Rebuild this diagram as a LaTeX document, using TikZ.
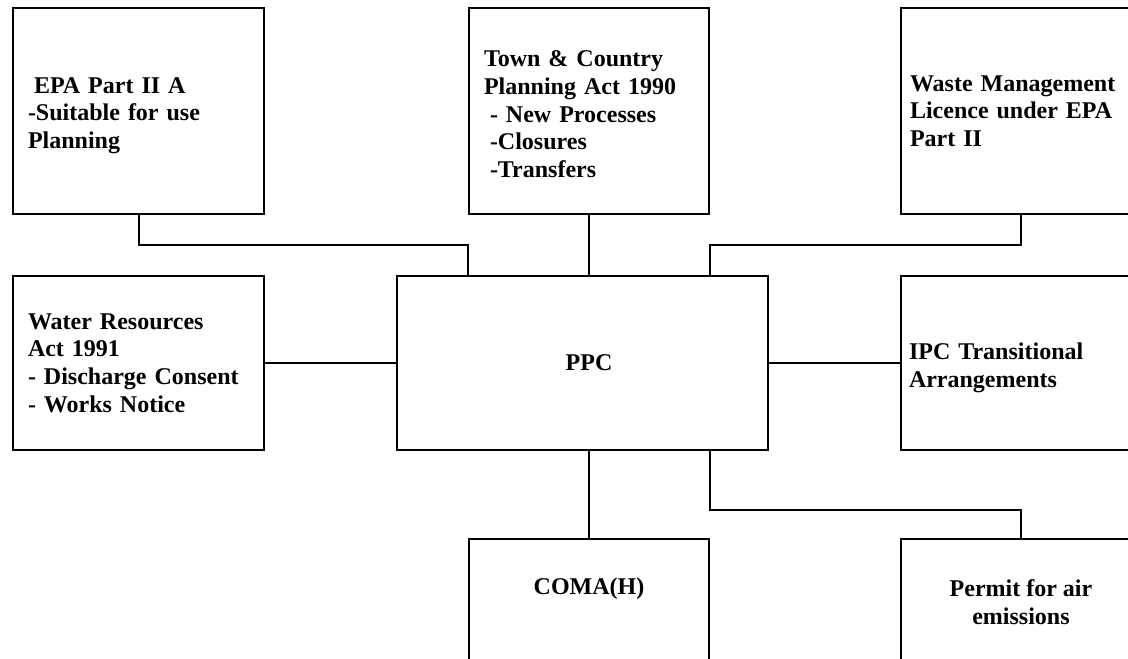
\documentclass[tikz,border=0pt]{standalone}
\usepackage{fontspec}
\setmainfont{Liberation Serif}
\begin{document}
\begin{tikzpicture}[x=1pt,y=-1pt,
    box/.style={draw, line width=2pt, inner sep=0pt, anchor=north west, align=left,
      font=\fontsize{24}{27.6}\selectfont\bfseries},
    link/.style={line width=2pt}]
\clip (0,0) rectangle (1128,659);
\node[box, minimum width=251pt, minimum height=206pt, text width=221pt] (epa) at (12,7)
  {\rule{0pt}{25pt}\hspace*{6pt}EPA Part II A\\-Suitable for use\\Planning};
\node[box, minimum width=240pt, minimum height=206pt, text width=210pt] (town) at (468,7)
  {\rule{0pt}{22.5pt}Town \& Country\\Planning Act 1990\\\hspace*{6pt}- New Processes\\\hspace*{6pt}-Closures\\\hspace*{6pt}-Transfers};
\node[box, minimum width=240pt, minimum height=206pt, text width=222pt] (waste) at (900,7)
  {Waste Management\\Licence under EPA\\Part II};
\node[box, minimum width=251pt, minimum height=174pt, text width=221pt] (water) at (12,275)
  {Water Resources\\Act 1991\\- Discharge Consent\\- Works Notice};
\node[box, minimum width=371pt, minimum height=174pt, align=center] (ppc) at (396,275)
  {\hspace*{13pt}PPC};
\node[box, minimum width=240pt, minimum height=174pt, text width=224pt] (ipc) at (900,275)
  {\rule{0pt}{26pt}IPC Transitional\\Arrangements};
\node[box, minimum width=240pt, text height=55pt, text depth=100pt, align=center] (coma) at (468,538)
  {COMA(H)};
\node[box, minimum width=240pt, text height=85pt, text depth=100pt, align=center] (permit) at (900,538)
  {Permit for air\\emissions};
\draw[link] (epa.south) -- ++(0,30) -| (town.west |- ppc.north);
\draw[link] (town.south) -- (town.south |- ppc.north);
\draw[link] (waste.south) -- ++(0,30) -| (town.east |- ppc.north);
\draw[link] (water.east) -- (ppc.west);
\draw[link] (ppc.east) -- (ipc.west);
\draw[link] (coma.north |- ppc.south) -- (coma.north);
\draw[link] (town.east |- ppc.south) -- ++(0,59) -| (permit.north);
\end{tikzpicture}
\end{document}
